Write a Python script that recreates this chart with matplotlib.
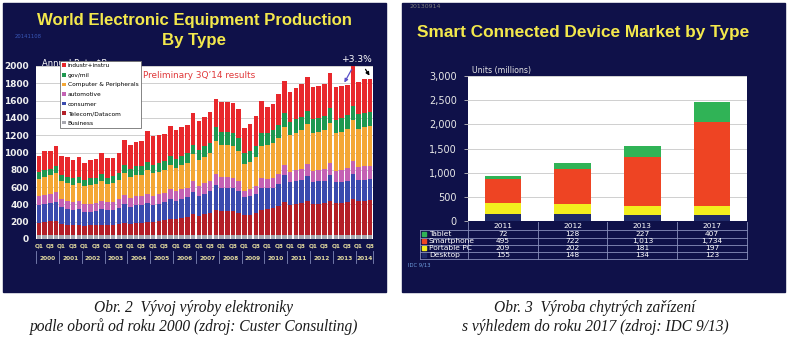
import matplotlib
matplotlib.use("Agg")
import matplotlib.pyplot as plt
from matplotlib.patches import Rectangle
from matplotlib.transforms import blended_transform_factory
import numpy as np

W, H = 788, 340

# ---- left chart data (quarterly, $B annual rate) ----
years = ["2000", "2001", "2002", "2003", "2004", "2005", "2006", "2007",
         "2008", "2009", "2010", "2011", "2012", "2013", "2014"]
quarters_per_year = [4] * 14 + [3]

business = [45] * 59
telecom = [145, 150, 160, 165, 130, 120, 115, 115, 110, 112, 115, 120,
           115, 118, 125, 140, 130, 140, 140, 150, 150, 160, 170, 190,
           185, 200, 210, 240, 225, 240, 255, 290, 280, 280, 280, 260,
           230, 235, 250, 290, 300, 310, 340, 385, 350, 360, 370, 395,
           360, 365, 370, 400, 370, 375, 385, 420, 400, 400, 405]
consumer = [200, 205, 210, 220, 190, 180, 175, 185, 155, 160, 165, 180,
            170, 175, 190, 220, 200, 205, 205, 220, 200, 205, 210, 230,
            210, 220, 225, 260, 230, 240, 250, 290, 270, 270, 265, 255,
            210, 215, 225, 260, 240, 240, 250, 310, 260, 265, 270, 290,
            255, 255, 260, 290, 240, 240, 245, 285, 240, 240, 240]
automotive = [104, 105, 105, 108, 100, 95, 92, 92, 90, 92, 92, 95,
              92, 95, 98, 105, 100, 105, 105, 110, 105, 105, 108, 112,
              110, 112, 115, 122, 115, 118, 120, 125, 120, 120, 118, 110,
              75, 80, 90, 105, 110, 115, 120, 115, 125, 128, 130, 135,
              130, 130, 135, 140, 135, 140, 145, 150, 150, 155, 155]
computer = [205, 215, 215, 225, 200, 205, 200, 205, 210, 215, 215, 225,
            210, 210, 220, 250, 240, 250, 250, 270, 260, 265, 265, 280,
            270, 280, 285, 310, 300, 310, 320, 385, 370, 370, 365, 350,
            310, 320, 340, 380, 390, 400, 410, 443, 420, 430, 440, 460,
            440, 440, 445, 470, 430, 440, 450, 470, 440, 450, 460]
govmil = [77, 80, 80, 85, 75, 75, 75, 78, 75, 78, 78, 82,
          78, 80, 82, 90, 90, 95, 95, 100, 100, 100, 100, 105,
          105, 108, 110, 115, 115, 120, 125, 155, 150, 150, 150, 145,
          125, 125, 130, 140, 140, 145, 150, 155, 150, 155, 155, 160,
          160, 160, 165, 170, 160, 160, 165, 170, 165, 165, 165]
industr = [187, 217, 202, 223, 216, 232, 207, 224, 198, 215, 211, 251,
           230, 217, 234, 291, 285, 285, 289, 354, 331, 326, 316, 344,
           335, 330, 332, 361, 334, 337, 353, 332, 344, 344, 345, 338,
           292, 309, 342, 379, 305, 302, 357, 373, 345, 366, 386, 384,
           363, 374, 368, 400, 381, 369, 342, 500, 375, 391, 384]

left_names = ["Business", "Telecom/Datacom", "consumer", "automotive",
              "Computer & Peripherals", "gov/mil", "industr+instru"]
left_series = [business, telecom, consumer, automotive, computer, govmil, industr]
left_colors = ["#a8a8b0", "#b41f27", "#3a4aae", "#c462b4",
               "#f4a735", "#1e9850", "#e8282c"]

# ---- right chart data (units, millions) ----
dev_years = ["2011", "2012", "2013", "2017"]
desktop = [155, 148, 134, 123]
portable = [209, 202, 181, 197]
smartphone = [495, 722, 1013, 1734]
tablet = [72, 128, 227, 407]
right_names = ["Desktop", "Portable PC", "Smartphone", "Tablet"]
right_series = [desktop, portable, smartphone, tablet]
right_colors = ["#1f2a68", "#f3ee1e", "#ee4423", "#30b356"]

NAVY = "#0f1149"
YELLOW = "#f3e84c"


def box(l, t, r, b):
    return [l / W, 1 - b / H, (r - l) / W, (b - t) / H]


fig = plt.figure(figsize=(W / 100, H / 100), dpi=100, facecolor="white")
for l, t, r, b in [(3, 3, 386, 292), (402, 3, 785, 292)]:
    fig.patches.append(Rectangle((l / W, 1 - b / H), (r - l) / W, (b - t) / H,
                                 transform=fig.transFigure, color=NAVY, zorder=-10))

# ---------------- left chart ----------------
ax1 = fig.add_axes(box(36, 66, 373, 239))
ax1.set_facecolor("white")
qlabels = []
for y, n in zip(years, quarters_per_year):
    qlabels += ["Q%d" % (k + 1) for k in range(n)]
x = np.arange(len(qlabels))
bottom = np.zeros(len(x))
handles = []
for name, vals, col in zip(left_names, left_series, left_colors):
    h = ax1.bar(x, vals, 0.8, bottom=bottom, color=col, linewidth=0, label=name)
    handles.append(h)
    bottom += np.array(vals)
ax1.set_xlim(-0.5, len(x) - 0.5)
ax1.set_ylim(0, 2000)
ax1.set_yticks(range(0, 2001, 200))
ax1.yaxis.grid(True, color="#c8c8c8", lw=0.6)
ax1.set_axisbelow(True)
for s in ax1.spines.values():
    s.set_visible(False)
ax1.tick_params(axis="y", length=0, pad=5, labelsize=6.5, labelcolor="#f0f0f0")
for lab in ax1.get_yticklabels():
    lab.set_fontweight("bold")
tick_pos = [i for i, q in enumerate(qlabels) if q in ("Q1", "Q3")]
ax1.set_xticks(tick_pos)
ax1.set_xticklabels([qlabels[i] for i in tick_pos], fontsize=4.2,
                    color="#e4dca0", fontweight="bold")
ax1.tick_params(axis="x", length=0, pad=3)

tr = blended_transform_factory(ax1.transData, ax1.transAxes)
start = 0
for y, n in zip(years, quarters_per_year):
    ax1.text(start + (n - 1) / 2, -0.112, y, transform=tr, ha="center", va="center",
             fontsize=4.2, color="#e4dca0", fontweight="bold")
    ax1.plot([start - 0.5] * 2, [-0.07, -0.14], transform=tr, color="#8088b8",
             lw=0.6, clip_on=False)
    start += n
ax1.plot([start - 0.5] * 2, [-0.07, -0.14], transform=tr, color="#8088b8",
         lw=0.6, clip_on=False)

# axis caption sits behind the legend box, as on the slide
ax1.text(42 / W, 1 - 63 / H, "Annual Rate $B", transform=fig.transFigure,
         ha="left", va="center", fontsize=6, color="white", zorder=1, clip_on=False)

leg = ax1.legend(handles[::-1], left_names[::-1], loc="upper left",
                 bbox_to_anchor=(60 / W, 1 - 61 / H), bbox_transform=fig.transFigure,
                 borderaxespad=0, fontsize=4.2, handlelength=0.6, handleheight=0.6,
                 handletextpad=0.3, labelspacing=0.78, borderpad=0.4, fancybox=False,
                 framealpha=1, edgecolor="#707070")
leg.get_frame().set_linewidth(0.6)
leg.set_zorder(6)

# ---------------- right chart ----------------
ax2 = fig.add_axes(box(468, 76, 747, 221))
ax2.set_facecolor("white")
xr = np.arange(len(dev_years))
bottom = np.zeros(len(xr))
for name, vals, col in zip(right_names, right_series, right_colors):
    ax2.bar(xr, vals, 0.52, bottom=bottom, color=col, linewidth=0)
    bottom += np.array(vals)
ax2.set_xlim(-0.5, len(xr) - 0.5)
ax2.set_ylim(0, 3000)
ax2.set_yticks(range(0, 3001, 500))
ax2.set_yticklabels(["{:,}".format(v) for v in range(0, 3001, 500)])
ax2.yaxis.grid(True, color="#c8c8c8", lw=0.6)
ax2.set_axisbelow(True)
ax2.set_xticks([])
for s in ax2.spines.values():
    s.set_visible(False)
ax2.tick_params(axis="y", length=3, width=0.6, color="#c0c0c0", pad=5,
                labelsize=7, labelcolor="#e8e8e8")

# ---------------- overlay: titles, table, captions ----------------
ov = fig.add_axes([0, 0, 1, 1], zorder=10)
ov.set_xlim(0, W)
ov.set_ylim(H, 0)
ov.axis("off")
ov.patch.set_visible(False)

ov.text(194, 20, "World Electronic Equipment Production", ha="center", va="center",
        fontsize=12.1, fontweight="bold", color=YELLOW, family="Liberation Sans")
ov.text(194, 41, "By Type", ha="center", va="center",
        fontsize=12.1, fontweight="bold", color=YELLOW, family="Liberation Sans")
ov.text(15, 36, "20141108", ha="left", va="center", fontsize=3.8, color="#3a58b8")
ov.text(143, 75, "Preliminary 3Q\u201914 results", ha="left", va="center",
        fontsize=6.4, color="#e0383a")
ov.text(357, 60, "+3.3%", ha="center", va="center", fontsize=6.6, color="white")
ov.annotate("", xy=(343, 85), xytext=(353, 67),
            arrowprops=dict(arrowstyle="-|>", color="#5a50c8", lw=0.9,
                            mutation_scale=5))
ov.annotate("", xy=(371, 78), xytext=(364, 67),
            arrowprops=dict(arrowstyle="-|>", color="black", lw=0.9,
                            mutation_scale=5))

ov.text(583, 33, "Smart Connected Device Market by Type", ha="center", va="center",
        fontsize=12.4, fontweight="bold", color=YELLOW, family="Liberation Sans")
ov.text(410, 7, "20130914", ha="left", va="center", fontsize=4.5, color="#7a7a7a")
ov.text(472, 70, "Units (millions)", ha="left", va="center", fontsize=5.6,
        color="#e8e8e8")

# table under the right chart
col_l, col_r = 468, 747
cw = (col_r - col_l) / len(dev_years)
row_y = [226, 234, 241, 248, 255]
edges = [222, 230, 237.5, 244.5, 251.5, 259]
line_col = "#8a90bc"
for e in edges[1:]:
    ov.plot([420, col_r], [e, e], color=line_col, lw=0.6)
ov.plot([420, 420], [edges[1], edges[-1]], color=line_col, lw=0.6)
for i in range(len(dev_years) + 1):
    ov.plot([col_l + i * cw] * 2, [edges[0], edges[-1]], color=line_col, lw=0.6)
for i, yr in enumerate(dev_years):
    ov.text(col_l + (i + 0.5) * cw, row_y[0], yr, ha="center", va="center",
            fontsize=5.4, color="white")
table_rows = list(zip(right_names, right_series, right_colors))[::-1]
for r, (name, vals, col) in enumerate(table_rows):
    yy = row_y[r + 1]
    ov.add_patch(Rectangle((422.5, yy - 2), 4, 4, color=col))
    ov.text(429, yy, name, ha="left", va="center", fontsize=5.4, color="white")
    for i, v in enumerate(vals):
        ov.text(col_l + (i + 0.5) * cw, yy, "{:,}".format(v), ha="center",
                va="center", fontsize=5.4, color="white")
ov.text(408, 265, "IDC 9/13", ha="left", va="center", fontsize=3.8, color="#6f9fe0")

# captions
cap = dict(ha="center", va="center", fontsize=11.2, style="italic",
           family="Liberation Serif", color="#1a1a1a")
ov.text(194, 308, "Obr. 2  V\u00fdvoj v\u00fdroby elektroniky", **cap)
ov.text(194, 327, "podle obor\u016f od roku 2000 (zdroj: Custer Consulting)", **cap)
ov.text(595, 308, "Obr. 3  V\u00fdroba chytr\u00fdch za\u0159\u00edzen\u00ed", **cap)
ov.text(595, 327, "s v\u00fdhledem do roku 2017 (zdroj: IDC 9/13)", **cap)

fig.savefig("out.png", dpi=100, facecolor="white")
